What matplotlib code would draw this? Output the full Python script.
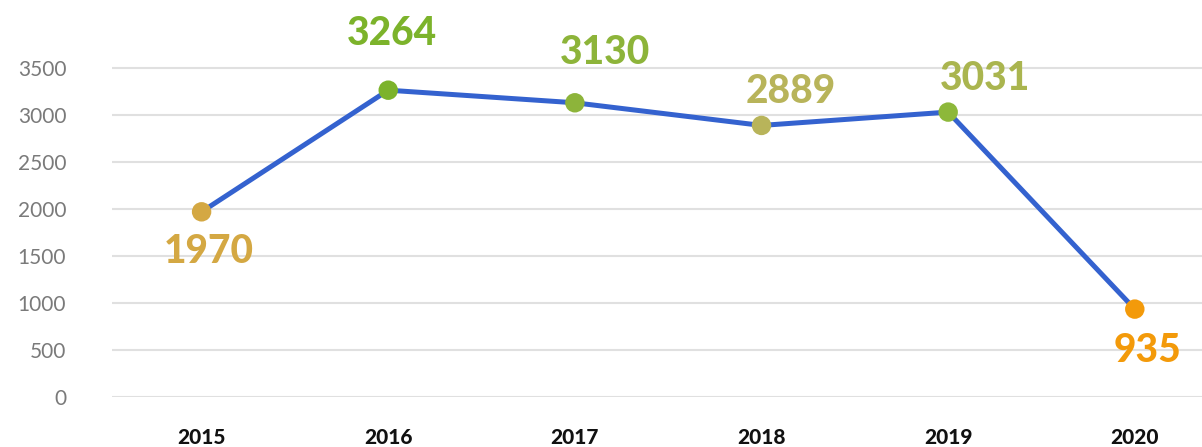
import matplotlib
matplotlib.use("Agg")
import matplotlib.pyplot as plt

years = ["2015", "2016", "2017", "2018", "2019", "2020"]
values = [1970, 3264, 3130, 2889, 3031, 935]
marker_colors = ["#D4A843", "#7CB32B", "#8DB43A", "#B8B45A", "#8DB83A", "#F39A0A"]
label_colors = ["#D4A843", "#7CB32B", "#8DB43A", "#B8B45A", "#AAB54F", "#F39A0A"]
yticks = [0, 500, 1000, 1500, 2000, 2500, 3000, 3500]
# label offsets in pixels (dx, dy)
label_offsets = [(7, -40), (4, 57), (30, 50), (29, 34), (37, 34), (13, -41)]

plt.rcParams['font.family'] = ['Lato', 'DejaVu Sans']

W, H = 1202, 447
fig = plt.figure(figsize=(W / 100, H / 100), dpi=100)
left, bottom_px = 112, 397
ax = fig.add_axes([left / W, 1 - bottom_px / H, 1 - left / W, bottom_px / H])

x = list(range(len(years)))
ax.plot(x, values, color="#3462CF", lw=3.6, zorder=2, solid_capstyle='round')
ax.scatter(x, values, s=14**2, c=marker_colors, zorder=3, linewidths=0)

for xi, v, c, (dx, dy) in zip(x, values, label_colors, label_offsets):
    ax.annotate(str(v), (xi, v), xytext=(dx, dy), textcoords='offset pixels',
                ha='center', va='center', fontsize=28, fontweight='black', color=c)

ax.set_xlim(-0.48, 5.36)
ax.set_ylim(0, bottom_px / 0.094)
ax.set_yticks(yticks)
ax.set_yticklabels([str(t) for t in yticks], fontsize=15, color="#7a7a7a", fontweight='normal')
ax.set_xticks(x)
ax.set_xticklabels(years, fontsize=15, fontweight='black', color="#111111")
ax.tick_params(axis='y', length=0, pad=33)
ax.tick_params(axis='x', length=0, pad=22)
ax.grid(axis='y', color="#e0e0e0", lw=1.5)
ax.set_axisbelow(True)
for s in ax.spines.values():
    s.set_visible(False)

fig.savefig("out.png", dpi=100)
